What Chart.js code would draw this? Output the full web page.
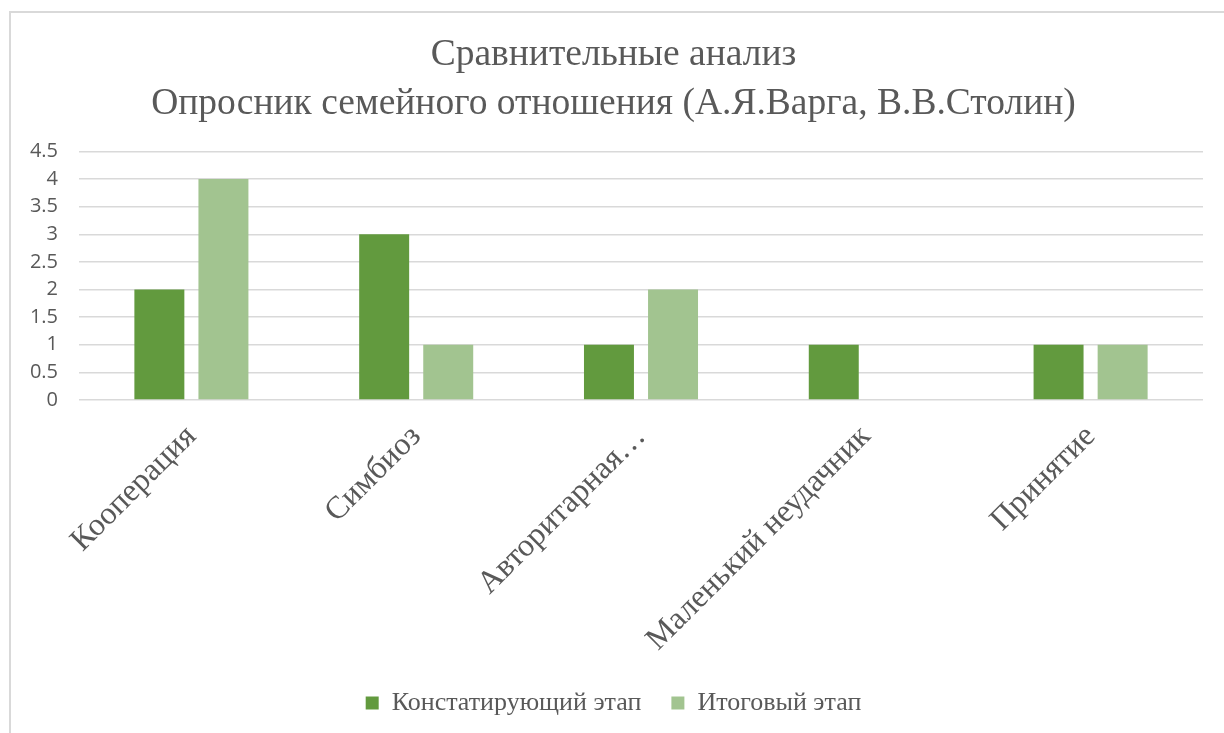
<!DOCTYPE html>
<html>
<head>
<meta charset="utf-8">
<script src="https://cdn.jsdelivr.net/npm/chart.js@4"></script>
<style>
  html, body { margin: 0; padding: 0; background: #fff; overflow: hidden; }
  #frame { position: absolute; left: 9px; top: 11px; width: 1400px; height: 900px; border: 2px solid #d9d9d9; }
  #wrap { position: absolute; left: 0; top: 0; width: 1224px; height: 733px; }
</style>
</head>
<body>
<div id="frame"></div>
<div id="wrap"><canvas id="chart"></canvas></div>
<script>
const categories = ["Кооперация", "Симбиоз", "Авторитарная…", "Маленький неудачник", "Принятие"];
const stage1 = [2, 3, 1, 1, 1];
const stage2 = [4, 1, 2, 0, 1];
const titleLines = ["Сравнительные анализ", "Опросник семейного отношения (А.Я.Варга, В.В.Столин)"];

const grey = "#595959";
Chart.defaults.font.family = "Liberation Serif";
Chart.defaults.color = grey;

new Chart(document.getElementById("chart"), {
  type: "bar",
  data: {
    labels: categories,
    datasets: [
      { label: "Констатирующий этап", data: stage1, backgroundColor: "#629a3e" },
      { label: "Итоговый этап", data: stage2, backgroundColor: "#a2c490" }
    ]
  },
  options: {
    responsive: true,
    maintainAspectRatio: false,
    animation: false,
    datasets: { bar: { categoryPercentage: 0.57, barPercentage: 0.78 } },
    layout: { padding: { left: 24, right: 21, top: 0, bottom: 7 } },
    plugins: {
      title: {
        display: true,
        text: titleLines,
        color: grey,
        font: { size: 37.5, weight: "normal", lineHeight: 1.3 },
        padding: { top: 31, bottom: 23 }
      },
      legend: {
        position: "bottom",
        labels: {
          color: grey,
          font: { size: 26 },
          boxWidth: 13,
          boxHeight: 13,
          padding: 30
        }
      },
      tooltip: { enabled: false }
    },
    scales: {
      x: {
        grid: { display: false },
        border: { display: false },
        afterFit: s => { s.height = 260; },
        ticks: {
          color: grey,
          font: { size: 32 },
          minRotation: 45,
          maxRotation: 45,
          autoSkip: false,
          padding: 10
        }
      },
      y: {
        min: 0,
        max: 4.5,
        afterFit: s => { s.width = 55; },
        grid: { color: "#d9d9d9", lineWidth: 1.5, drawTicks: false },
        border: { display: false },
        ticks: {
          stepSize: 0.5,
          color: grey,
          font: { family: "Open Sans", size: 20 },
          padding: 21,
          callback: v => String(v)
        }
      }
    }
  }
});
</script>
</body>
</html>
